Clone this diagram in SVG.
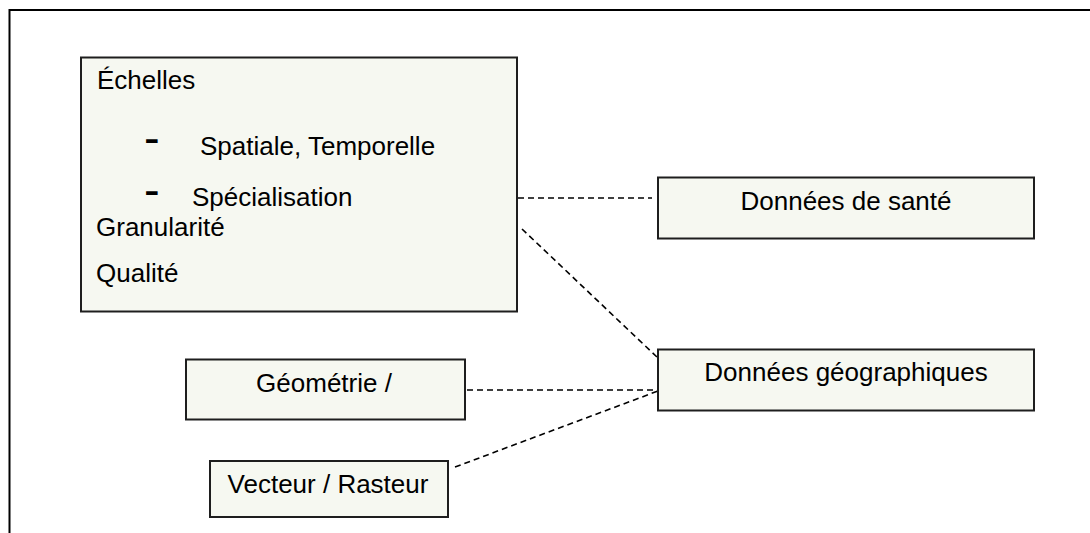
<svg xmlns="http://www.w3.org/2000/svg" width="1090" height="533" viewBox="0 0 1090 533">
<style>
.box{fill:#f6f8f1;stroke:#1e1e1e;stroke-width:2}
.t{font-family:"Liberation Sans",Arial,Helvetica,sans-serif;font-size:26px;fill:#000}
.c{text-anchor:middle}
.dash{font-family:"Liberation Sans",Arial,sans-serif;font-size:47px;fill:#000}
.conn{stroke:#000;stroke-width:1.6;stroke-dasharray:6 4;fill:none}
.frame{stroke:#000;stroke-width:2;fill:none}
</style>
<rect width="1090" height="533" fill="#fff"/>
<path class="frame" d="M9.5,533 V10 H1090"/>
<g id="connectors">
<line class="conn" x1="518" y1="198" x2="652" y2="198"/>
<line class="conn" x1="522" y1="229" x2="658" y2="358"/>
<line class="conn" x1="467" y1="390" x2="658" y2="390"/>
<line class="conn" x1="455" y1="467" x2="658" y2="391"/>
</g>
<g id="node-echelles">
<rect class="box" x="81" y="57.5" width="436" height="254"/>
<text class="t" x="97" y="89">Échelles</text>
<text class="dash" x="144" y="154">-</text>
<text class="t" x="200" y="155">Spatiale, Temporelle</text>
<text class="dash" x="144" y="206">-</text>
<text class="t" x="192" y="206">Spécialisation</text>
<text class="t" x="96" y="236">Granularité</text>
<text class="t" x="96" y="282">Qualité</text>
</g>
<g id="node-sante">
<rect class="box" x="658" y="177.5" width="376" height="61"/>
<text class="t c" x="846" y="210">Données de santé</text>
</g>
<g id="node-geo">
<rect class="box" x="658" y="349.5" width="376" height="61"/>
<text class="t c" x="846" y="381">Données géographiques</text>
</g>
<g id="node-geometrie">
<rect class="box" x="186" y="359.5" width="279" height="60"/>
<text class="t c" x="324" y="392">Géométrie /</text>
</g>
<g id="node-vecteur">
<rect class="box" x="210" y="461" width="238" height="56"/>
<text class="t c" x="328" y="493">Vecteur / Rasteur</text>
</g>
</svg>
